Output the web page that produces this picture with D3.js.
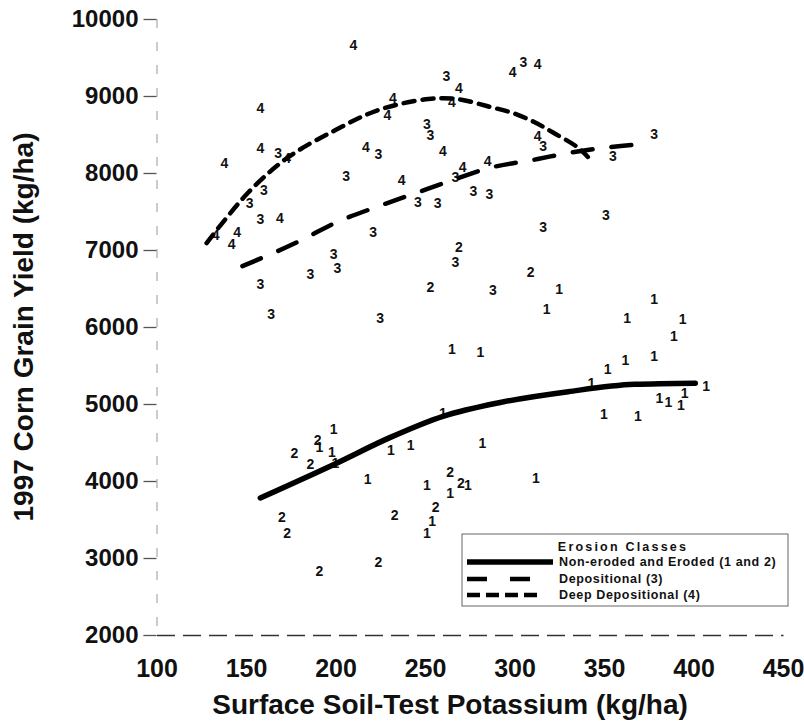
<!DOCTYPE html>
<html>
<head>
<meta charset="utf-8">
<script src="https://cdn.jsdelivr.net/npm/d3@7"></script>
<style>
  html,body{margin:0;padding:0;background:#fff;}
  svg{display:block;font-family:"Liberation Sans",Arial,sans-serif;}
</style>
</head>
<body>
<svg id="chart" width="804" height="726"></svg>
<script>
// ---- Data ----
const xTicks = [100,150,200,250,300,350,400,450];
const yTicks = [2000,3000,4000,5000,6000,7000,8000,9000,10000];

// Class 1: Non-eroded
const class1 = [[191,4440],[199,4675],[198,4377],[200,4234],[231,4403],[242,4468],[218,4026],
  [260,4883],[282,4494],[312,4039],[274,3948],[251,3948],[264,3844],[254,3481],[251,3325],
  [325,6493],[318,6234],[265,5714],[281,5675],[378,6364],[363,6117],[394,6104],[389,5883],
  [378,5623],[362,5571],[352,5455],[343,5273],[407,5234],[395,5143],[381,5078],[386,5026],
  [393,4987],[350,4870],[369,4844]];
// Class 2: Eroded
const class2 = [[269,7039],[253,6519],[309,6714],[190,4532],[177,4364],[186,4221],[170,3532],
  [173,3325],[233,3558],[191,2831],[224,2948],[264,4117],[270,3974],[256,3662]];
// Class 3: Depositional
const class3 = [[168,8260],[160,7779],[152,7610],[158,7402],[262,9260],[251,8636],[253,8494],
  [224,8247],[206,7961],[267,7948],[277,7766],[286,7727],[246,7623],[257,7610],[305,9442],
  [316,8351],[378,8506],[355,8221],[221,7234],[199,6948],[201,6766],[186,6688],[158,6558],
  [164,6169],[225,6117],[316,7299],[351,7455],[267,6844],[288,6480]];
// Class 4: Deep depositional
const class4 = [[210,9660],[158,8840],[158,8320],[138,8130],[173,8195],[169,7416],[145,7234],
  [133,7200],[142,7078],[232,8974],[229,8753],[269,9104],[265,8922],[217,8338],[260,8286],
  [271,8078],[285,8156],[237,7909],[299,9312],[313,9416],[313,8480]];

// Fitted curves
const curveNonEroded = [[158,3780],[200,4225],[230,4560],[260,4840],[292,5020],[330,5160],[367,5255],[401,5270]];
const curveDepositional = [[148,6790],[180,7117],[201,7364],[223,7560],[245,7740],[262,7880],[285,8060],[313,8182],[330,8260],[354,8338],[375,8380]];
const curveDeep = [[128,7090],[151,7740],[173,8195],[200,8558],[224,8818],[252,8961],[268,8960],[286,8860],[299,8779],[311,8662],[322,8519],[335,8338],[341,8208]];

const legendTitle = "Erosion Classes";
const legendLabels = ["Non-eroded and Eroded (1 and 2)","Depositional (3)","Deep Depositional (4)"];

// ---- Drawing ----
const svg = d3.select("#chart");
const x = d3.scaleLinear().domain([100,450]).range([156.5,783]);
const y = d3.scaleLinear().domain([2000,10000]).range([635,19]);

// Y axis
const yAxis = svg.append("g").attr("transform","translate(156.5,0)")
  .call(d3.axisLeft(y).tickValues(yTicks).tickSize(13).tickPadding(5).tickFormat(d3.format("d")));
yAxis.select(".domain").attr("stroke","#aaa").attr("stroke-width",1.2).attr("stroke-dasharray","9,14");
yAxis.selectAll(".tick line").attr("stroke","#555").attr("stroke-width",1.3);
yAxis.selectAll(".tick text").attr("font-size","24px").attr("font-weight","bold")
  .attr("fill","#111").attr("font-family","Liberation Sans, Arial, sans-serif");

// X axis
const xAxis = svg.append("g").attr("transform","translate(0,635)")
  .call(d3.axisBottom(x).tickValues(xTicks).tickSize(0).tickPadding(24).tickFormat(d3.format("d")));
xAxis.select(".domain").attr("stroke","#333").attr("stroke-width",1.4).attr("stroke-dasharray","18,8");
xAxis.selectAll(".tick text").attr("font-size","25px").attr("font-weight","bold")
  .attr("fill","#111").attr("font-family","Liberation Sans, Arial, sans-serif");

// Axis titles
svg.append("text").attr("x",450).attr("y",714).attr("text-anchor","middle")
  .attr("font-size","28px").attr("font-weight","bold").attr("fill","#111")
  .text("Surface Soil-Test Potassium (kg/ha)");
svg.append("text").attr("transform","translate(33,327) rotate(-90)").attr("text-anchor","middle")
  .attr("font-size","28px").attr("font-weight","bold").attr("fill","#111")
  .text("1997 Corn Grain Yield (kg/ha)");

// Points as class numerals
const allClasses = [[class1,"1"],[class2,"2"],[class3,"3"],[class4,"4"]];
const pts = svg.append("g");
allClasses.forEach(([arr,lab]) => {
  pts.selectAll(null).data(arr).enter().append("text")
    .attr("x",d=>x(d[0])).attr("y",d=>y(d[1]))
    .attr("text-anchor","middle").attr("dominant-baseline","central")
    .attr("font-size","14px").attr("font-weight","bold").attr("fill","#111")
    .text(lab);
});

// Curves
const line = d3.line().x(d=>x(d[0])).y(d=>y(d[1])).curve(d3.curveMonotoneX);
const lineC = d3.line().x(d=>x(d[0])).y(d=>y(d[1])).curve(d3.curveCatmullRom);
svg.append("path").attr("d",line(curveNonEroded)).attr("fill","none")
  .attr("stroke","#000").attr("stroke-width",5.5).attr("stroke-linecap","round");
svg.append("path").attr("d",line(curveDepositional)).attr("fill","none")
  .attr("stroke","#000").attr("stroke-width",4.5).attr("stroke-linecap","round")
  .attr("stroke-dasharray","20,19");
svg.append("path").attr("d",lineC(curveDeep)).attr("fill","none")
  .attr("stroke","#000").attr("stroke-width",4.5).attr("stroke-linecap","round")
  .attr("stroke-dasharray","11,8");

// Legend
const lg = svg.append("g");
lg.append("rect").attr("x",462).attr("y",534).attr("width",326).attr("height",72)
  .attr("fill","#fff").attr("stroke","#666").attr("stroke-width",1);
lg.append("text").attr("x",623).attr("y",547).attr("text-anchor","middle").attr("dominant-baseline","central")
  .attr("font-size","12.5px").attr("font-weight","bold").attr("letter-spacing","2.2px").attr("fill","#111")
  .text(legendTitle);
const legendStyles = [
  {w:5.5, dash:null, x2:553},
  {w:4.5, dash:"20,23", x2:532},
  {w:4.5, dash:"13,6", x2:543}
];
const rowY = [562,579,595];
legendLabels.forEach((lab,i)=>{
  const st = legendStyles[i];
  lg.append("line").attr("x1",467).attr("x2",st.x2).attr("y1",rowY[i]).attr("y2",rowY[i])
    .attr("stroke","#000").attr("stroke-width",st.w)
    .attr("stroke-dasharray",st.dash);
  lg.append("text").attr("x",559).attr("y",rowY[i]).attr("dominant-baseline","central")
    .attr("font-size","12.5px").attr("fill","#111").attr("font-weight","bold")
    .attr("letter-spacing","0.65px")
    .text(lab);
});
</script>
</body>
</html>
